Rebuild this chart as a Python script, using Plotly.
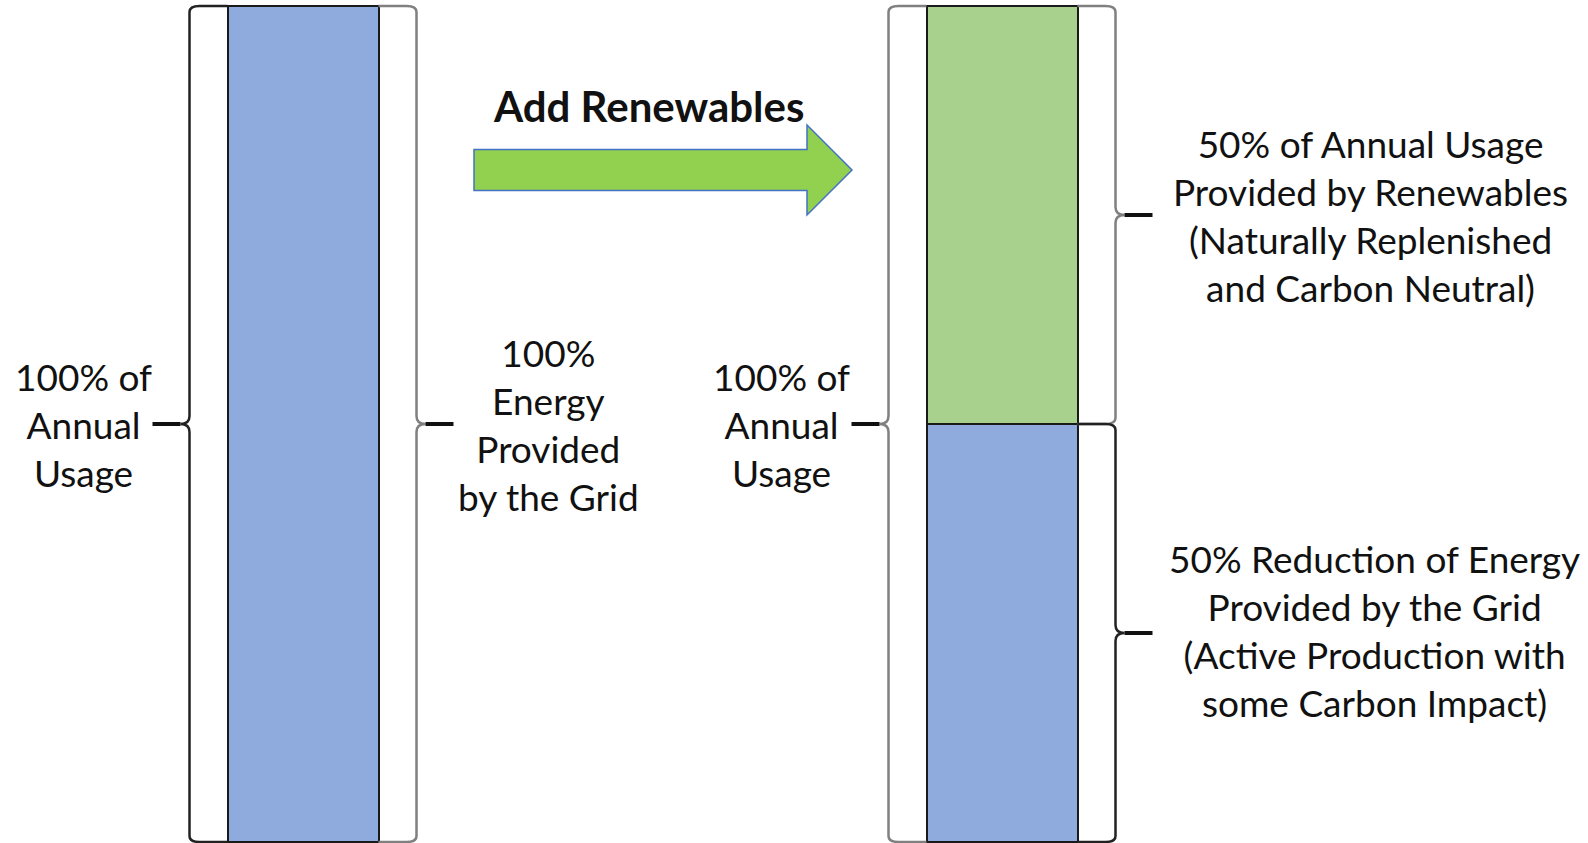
import plotly.graph_objects as go

# ---------------- data ----------------
categories = ["Before", "After"]
grid_share = [100, 50]          # % of annual usage provided by the grid
renewable_share = [0, 50]       # % of annual usage provided by renewables

left_label = "100% of<br>Annual<br>Usage"
grid_only_label = "100%<br>Energy<br>Provided<br>by the Grid"
renew_label = "50% of Annual Usage<br>Provided by Renewables<br>(Naturally Replenished<br>and Carbon Neutral)"
grid_cut_label = "50% Reduction of Energy<br>Provided by the Grid<br>(Active Production with<br>some Carbon Impact)"
arrow_label = "Add Renewables"

BLUE = "#8FAADC"
GREEN = "#A9D18E"
ARROW_GREEN = "#92D050"
FONT = "Lato"

W, H = 1588, 843
PX_X = 699.0                       # pixels per category step
X_MIN = -303.0 / PX_X
X_RANGE = [X_MIN, X_MIN + W / PX_X]
PX_Y = 8.36                        # pixels per % unit
Y_MAX = 100 + 6 / PX_Y
Y_RANGE = [Y_MAX - H / PX_Y, Y_MAX]

def dx(px):   # pixel length -> x units
    return px / PX_X

def dy(px):   # pixel length -> y units
    return px / PX_Y

xpos = [0, 1]
BAR_W = dx(151)
HALF = BAR_W / 2
GAP = dx(38)

fig = go.Figure()
fig.add_trace(go.Bar(x=xpos, y=grid_share, width=BAR_W, marker=dict(color=BLUE, line=dict(color="#1a1a1a", width=2.5)),
                     name="Grid", showlegend=False, hoverinfo="skip"))
fig.add_trace(go.Bar(x=xpos, y=[v if v > 0 else None for v in renewable_share], width=BAR_W,
                     marker=dict(color=GREEN, line=dict(color="#1a1a1a", width=2.5)),
                     name="Renewables", showlegend=False, hoverinfo="skip"))

shapes = []

def brace(xb, y0, y1, side, color):
    """side=-1: notch points left (brace left of bar), +1: notch right."""
    s = side
    hook = GAP  # curl reaches the bar edge
    rx, ry = dx(10), dy(6)
    nd, nh = dx(9), dy(8)
    ym = (y0 + y1) / 2
    xin = xb - s * hook
    path = (f"M{xin},{y1} L{xb - s*rx},{y1} Q{xb},{y1} {xb},{y1-ry} "
            f"L{xb},{ym+nh} Q{xb},{ym} {xb + s*nd},{ym} Q{xb},{ym} {xb},{ym-nh} "
            f"L{xb},{y0+ry} Q{xb},{y0} {xb - s*rx},{y0} L{xin},{y0}")
    shapes.append(dict(type="path", xref="x", yref="y", path=path, line=dict(color=color, width=2.5)))
    # dash at the notch
    shapes.append(dict(type="line", xref="x", yref="y", x0=xb + s*nd, x1=xb + s*(nd + dx(28)), y0=ym, y1=ym,
                       line=dict(color="#111", width=4)))

totals = [g + r for g, r in zip(grid_share, renewable_share)]
# bar 1
brace(xpos[0] - HALF - GAP, 0, totals[0], -1, "#222")
brace(xpos[0] + HALF + GAP, 0, totals[0], +1, "#808080")
# bar 2
brace(xpos[1] - HALF - GAP, 0, totals[1], -1, "#808080")
brace(xpos[1] + HALF + GAP, grid_share[1], totals[1], +1, "#808080")
brace(xpos[1] + HALF + GAP, 0, grid_share[1], +1, "#222")

# arrow between bars
ax0 = xpos[0] + dx(171)
ax1 = xpos[0] + dx(504)
ax2 = xpos[0] + dx(549)
ym_a = Y_MAX - dy(170)
bh, hh = dy(20.5), dy(45)
arrow_path = (f"M{ax0},{ym_a+bh} L{ax1},{ym_a+bh} L{ax1},{ym_a+hh} L{ax2},{ym_a} "
              f"L{ax1},{ym_a-hh} L{ax1},{ym_a-bh} L{ax0},{ym_a-bh} Z")
shapes.append(dict(type="path", xref="x", yref="y", path=arrow_path, fillcolor=ARROW_GREEN,
                   line=dict(color="#4472C4", width=1.5)))

FS = 37
ann = []
def label(x, y, text, bold=False, size=FS):
    ann.append(dict(x=x, y=y, xref="x", yref="y", text=f"<b>{text}</b>" if bold else text, showarrow=False,
                    xanchor="center", yanchor="middle", align="center",
                    font=dict(family=FONT, size=size, color="#111")))

label(xpos[0] - dx(220), totals[0] / 2, left_label)
label(xpos[0] + dx(245), totals[0] / 2, grid_only_label)
label(xpos[1] - dx(221), totals[1] / 2, left_label)
label(xpos[1] + dx(368), grid_share[1] + renewable_share[1] / 2, renew_label)
label(xpos[1] + dx(372), grid_share[1] / 2 + dy(3), grid_cut_label)
label(xpos[0] + dx(345), Y_MAX - dy(106), arrow_label, bold=True, size=42)

fig.update_layout(
    width=W, height=H, autosize=False,
    margin=dict(l=0, r=0, t=0, b=0),
    paper_bgcolor="white", plot_bgcolor="white",
    barmode="stack", bargap=0,
    xaxis=dict(range=X_RANGE, visible=False, tickvals=xpos, ticktext=categories, fixedrange=True),
    yaxis=dict(range=Y_RANGE, visible=False, fixedrange=True),
    shapes=shapes, annotations=ann,
    showlegend=False,
)

fig.write_html("out.html")
